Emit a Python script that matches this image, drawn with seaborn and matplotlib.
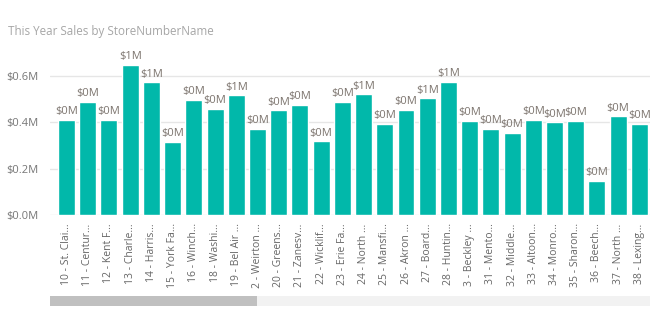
import matplotlib
matplotlib.use("Agg")
import matplotlib.pyplot as plt
import seaborn as sns
import pandas as pd
from matplotlib.patches import Rectangle
from matplotlib.ticker import FuncFormatter

stores = ["10 - St. Clai...", "11 - Centur...", "12 - Kent F...", "13 - Charle...",
          "14 - Harris...", "15 - York Fa...", "16 - Winch...", "18 - Washi...",
          "19 - Bel Air ...", "2 - Weirton ...", "20 - Greens...", "21 - Zanesv...",
          "22 - Wicklif...", "23 - Erie Fa...", "24 - North ...", "25 - Mansfi...",
          "26 - Akron ...", "27 - Board...", "28 - Huntin...", "3 - Beckley ...",
          "31 - Mento...", "32 - Middle...", "33 - Altoon...", "34 - Monro...",
          "35 - Sharon...", "36 - Beech...", "37 - North ...", "38 - Lexing..."]
sales_m = [0.410, 0.488, 0.410, 0.648, 0.573, 0.317, 0.497, 0.458,
           0.517, 0.373, 0.452, 0.476, 0.318, 0.487, 0.521, 0.393,
           0.455, 0.504, 0.576, 0.406, 0.371, 0.354, 0.410, 0.400,
           0.406, 0.146, 0.426, 0.392]
yticks = [0.0, 0.2, 0.4, 0.6]
title = "This Year Sales by StoreNumberName"

sns.set_theme(style="white")
plt.rcParams["font.family"] = ["Open Sans", "DejaVu Sans"]

W, H = 650, 325
fig = plt.figure(figsize=(6.5, 3.25), dpi=100)
px_per_m = 231.5
ymax = 0.68
ax_left, ax_right, ax_bottom = 50, 650, 215
ax = fig.add_axes([ax_left / W, 1 - ax_bottom / H, (ax_right - ax_left) / W, ymax * px_per_m / H])

df = pd.DataFrame({"store": stores, "sales": sales_m})
sns.barplot(data=df, x="store", y="sales", color="#01B8AA", saturation=1, width=0.8, ax=ax)

ax.set_ylim(0, ymax)
ax.set_xlim(-0.78, 27.5)
ax.set_yticks(yticks)
ax.yaxis.set_major_formatter(FuncFormatter(lambda v, p: f"${v:.1f}M"))
ax.grid(axis="y", color="#e6e6e6", linewidth=1)
ax.set_axisbelow(True)
for s in ax.spines.values():
    s.set_visible(False)
ax.set_xlabel("")
ax.set_ylabel("")
ax.tick_params(axis="y", length=0, pad=8, labelsize=8, labelcolor="#777777")
ax.tick_params(axis="x", length=0, pad=6, labelsize=7.5, labelcolor="#666666")
for lbl in ax.get_xticklabels():
    lbl.set_rotation(90)
    lbl.set_va("top")
    lbl.set_ha("center")

for i, v in enumerate(sales_m):
    ax.annotate(f"${round(v):d}M", (i, v), xytext=(0, 2), textcoords="offset points",
                ha="center", va="bottom", fontsize=8, color="#7d756f", clip_on=False)

fig.text(8 / W, 1 - 31 / H, title, fontsize=8.4, color="#a6a6a6", va="center", ha="left")

# scrollbar
fig.patches.append(Rectangle((50 / W, 1 - 306 / H), 600 / W, 10 / H, transform=fig.transFigure,
                             facecolor="#f2f2f2", edgecolor="none"))
fig.patches.append(Rectangle((50 / W, 1 - 306 / H), 207 / W, 10 / H, transform=fig.transFigure,
                             facecolor="#c0c0c0", edgecolor="none"))

fig.savefig("out.png", dpi=100, facecolor="white")
